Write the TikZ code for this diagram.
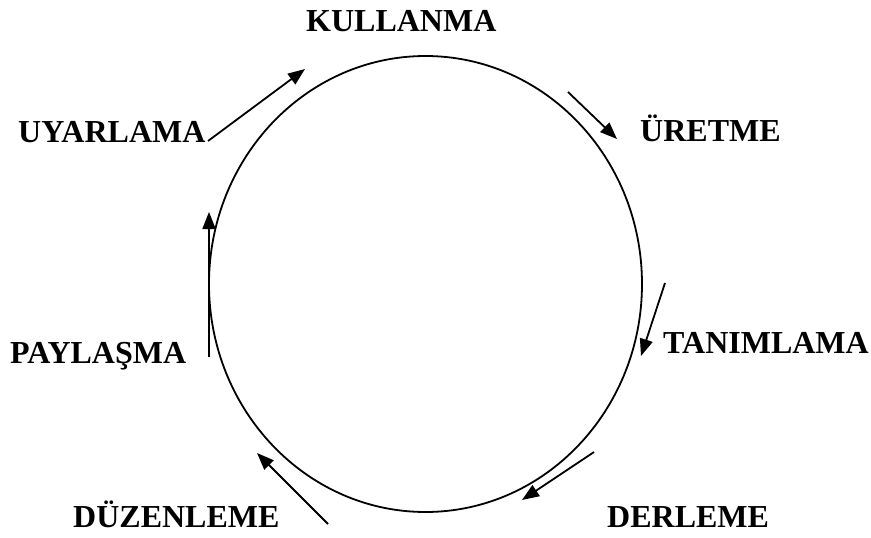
\documentclass[tikz,border=0pt]{standalone}
\usepackage{fontspec}
\setmainfont{Liberation Serif}
\usetikzlibrary{arrows.meta}
\begin{document}
\begin{tikzpicture}[x=1pt,y=-1pt,
  lbl/.style={anchor=base west,inner sep=0pt,font=\fontsize{32}{38}\selectfont\bfseries},
  cyc/.style={line width=1.8pt},
  arr/.style={line width=1.8pt,-{Triangle[length=17pt,width=13pt]}}]
\useasboundingbox (0,0) rectangle (871,538);
\draw[cyc] (425.5,284) ellipse [x radius=216.5, y radius=228];
\node[lbl] (kul) at (306,31) {KULLANMA};
\node[lbl] (uya) at (18,142.5) {UYARLAMA};
\node[lbl] (ure) at (640,141.5) {ÜRETME};
\node[lbl] (pay) at (10,363) {PAYLAŞMA};
\node[lbl] (tan) at (663,353) {TANIMLAMA};
\node[lbl] (duz) at (73,527) {DÜZENLEME};
\node[lbl] (der) at (607,527) {DERLEME};
\coordinate (a1s) at (208,141); \coordinate (a1e) at (305,69);
\coordinate (a2s) at (568,92);  \coordinate (a2e) at (617,139);
\coordinate (a3s) at (665,283); \coordinate (a3e) at (641,356);
\coordinate (a4s) at (594,452); \coordinate (a4e) at (522,500);
\coordinate (a5s) at (328,524); \coordinate (a5e) at (257,453);
\coordinate (a6s) at (209,357); \coordinate (a6e) at (209,212);
\draw[arr] (a1s) -- (a1e);
\draw[arr] (a2s) -- (a2e);
\draw[arr] (a3s) -- (a3e);
\draw[arr] (a4s) -- (a4e);
\draw[arr] (a5s) -- (a5e);
\draw[arr] (a6s) -- (a6e);
\end{tikzpicture}
\end{document}
